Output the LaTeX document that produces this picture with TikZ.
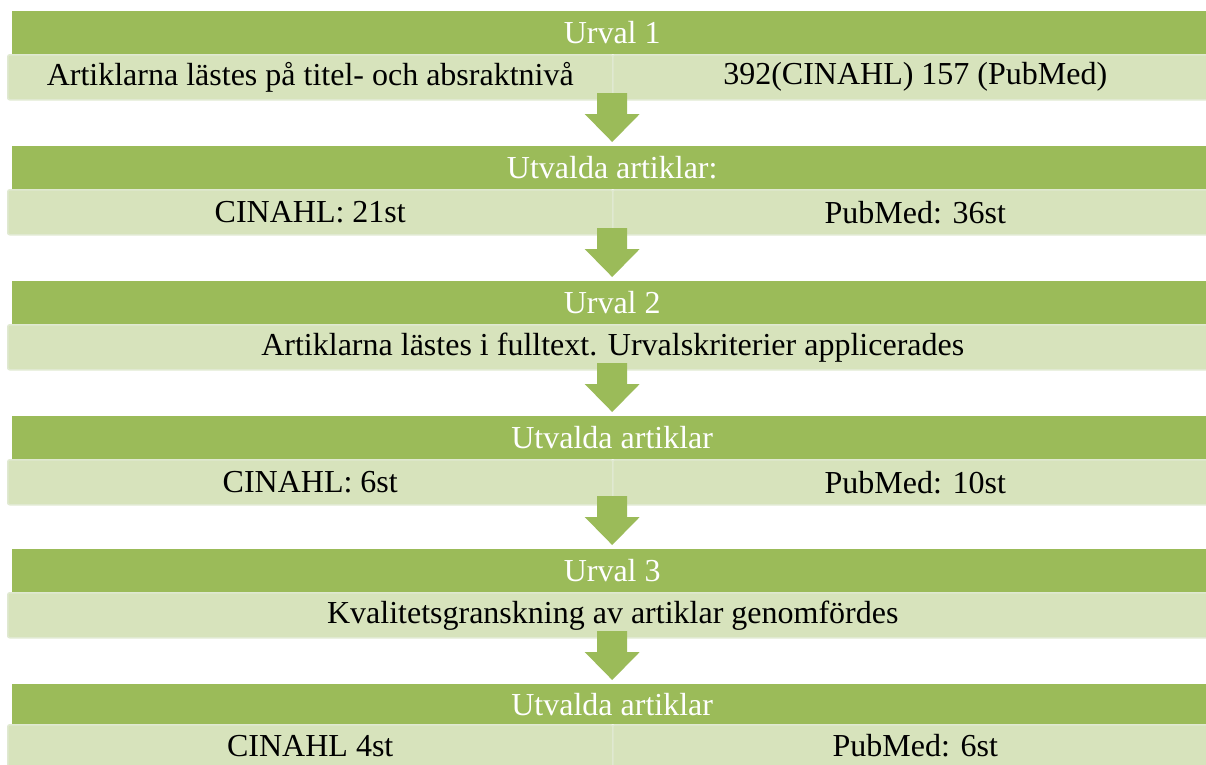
\documentclass[tikz,border=0pt]{standalone}
\usepackage{fontspec}
\setmainfont{Liberation Serif}
\usetikzlibrary{calc,positioning}
\definecolor{ogreen}{HTML}{9BBB59}
\definecolor{olight}{HTML}{D7E3BC}
\definecolor{oedge}{HTML}{E0E9D1}
\tikzset{
  head/.style={fill=ogreen, draw=none, text=white, minimum height=43pt, inner sep=0pt, font=\fontsize{32}{34}\selectfont, anchor=north west},
  cell/.style={fill=olight, draw=oedge, line width=1.5pt, rounded corners=2pt, minimum height=45pt, inner sep=0pt, font=\fontsize{32}{34}\selectfont, anchor=north west},
  arr/.style={fill=ogreen, draw=none}
}
\begin{document}
\begin{tikzpicture}[x=1pt,y=-1pt]
\useasboundingbox (0,0) rectangle (1206,764);
\clip (0,0) rectangle (1206,764);
% row 1
\node[head, minimum width=1200pt] (g1) at (12,11) {Urval 1};
\node[cell, minimum width=605pt] (l1a) at (7,54) {Artiklarna lästes på titel- och absraktnivå};
\node[cell, minimum width=605pt] (l1b) at (612,54) {392(CINAHL) 157 (PubMed)};
% row 2
\node[head, minimum width=1200pt] (g2) at (12,146) {Utvalda artiklar:};
\node[cell, minimum width=605pt] (l2a) at (7,189) {CINAHL: 21st};
\node[cell, minimum width=605pt] (l2b) at (612,189) {PubMed: 36st};
% row 3
\node[head, minimum width=1200pt] (g3) at (12,281) {Urval 2};
\node[cell, minimum width=1210pt] (l3) at (7,324) {Artiklarna lästes i fulltext. Urvalskriterier applicerades};
% row 4
\node[head, minimum width=1200pt] (g4) at (12,416) {Utvalda artiklar};
\node[cell, minimum width=605pt] (l4a) at (7,459) {CINAHL: 6st};
\node[cell, minimum width=605pt] (l4b) at (612,459) {PubMed: 10st};
% row 5
\node[head, minimum width=1200pt] (g5) at (12,549) {Urval 3};
\node[cell, minimum width=1210pt] (l5) at (7,592) {Kvalitetsgranskning av artiklar genomfördes};
% row 6
\node[head, minimum width=1200pt, minimum height=40pt] (g6) at (12,684) {Utvalda artiklar};
\node[cell, minimum width=605pt, minimum height=42pt] (l6a) at (7,724) {CINAHL 4st};
\node[cell, minimum width=605pt, minimum height=42pt] (l6b) at (612,724) {PubMed: 6st};
% arrows
\foreach \b in {2,3,4,5,6} {
  \fill[arr] let \p1=(g\b.north) in
    (\x1,\y1+4pt) -- (\x1+27.5pt,\y1+32pt) -- (\x1+15pt,\y1+32pt) -- (\x1+15pt,\y1+53pt)
    -- (\x1-15pt,\y1+53pt) -- (\x1-15pt,\y1+32pt) -- (\x1-27.5pt,\y1+32pt) -- cycle;
}
\end{tikzpicture}
\end{document}
